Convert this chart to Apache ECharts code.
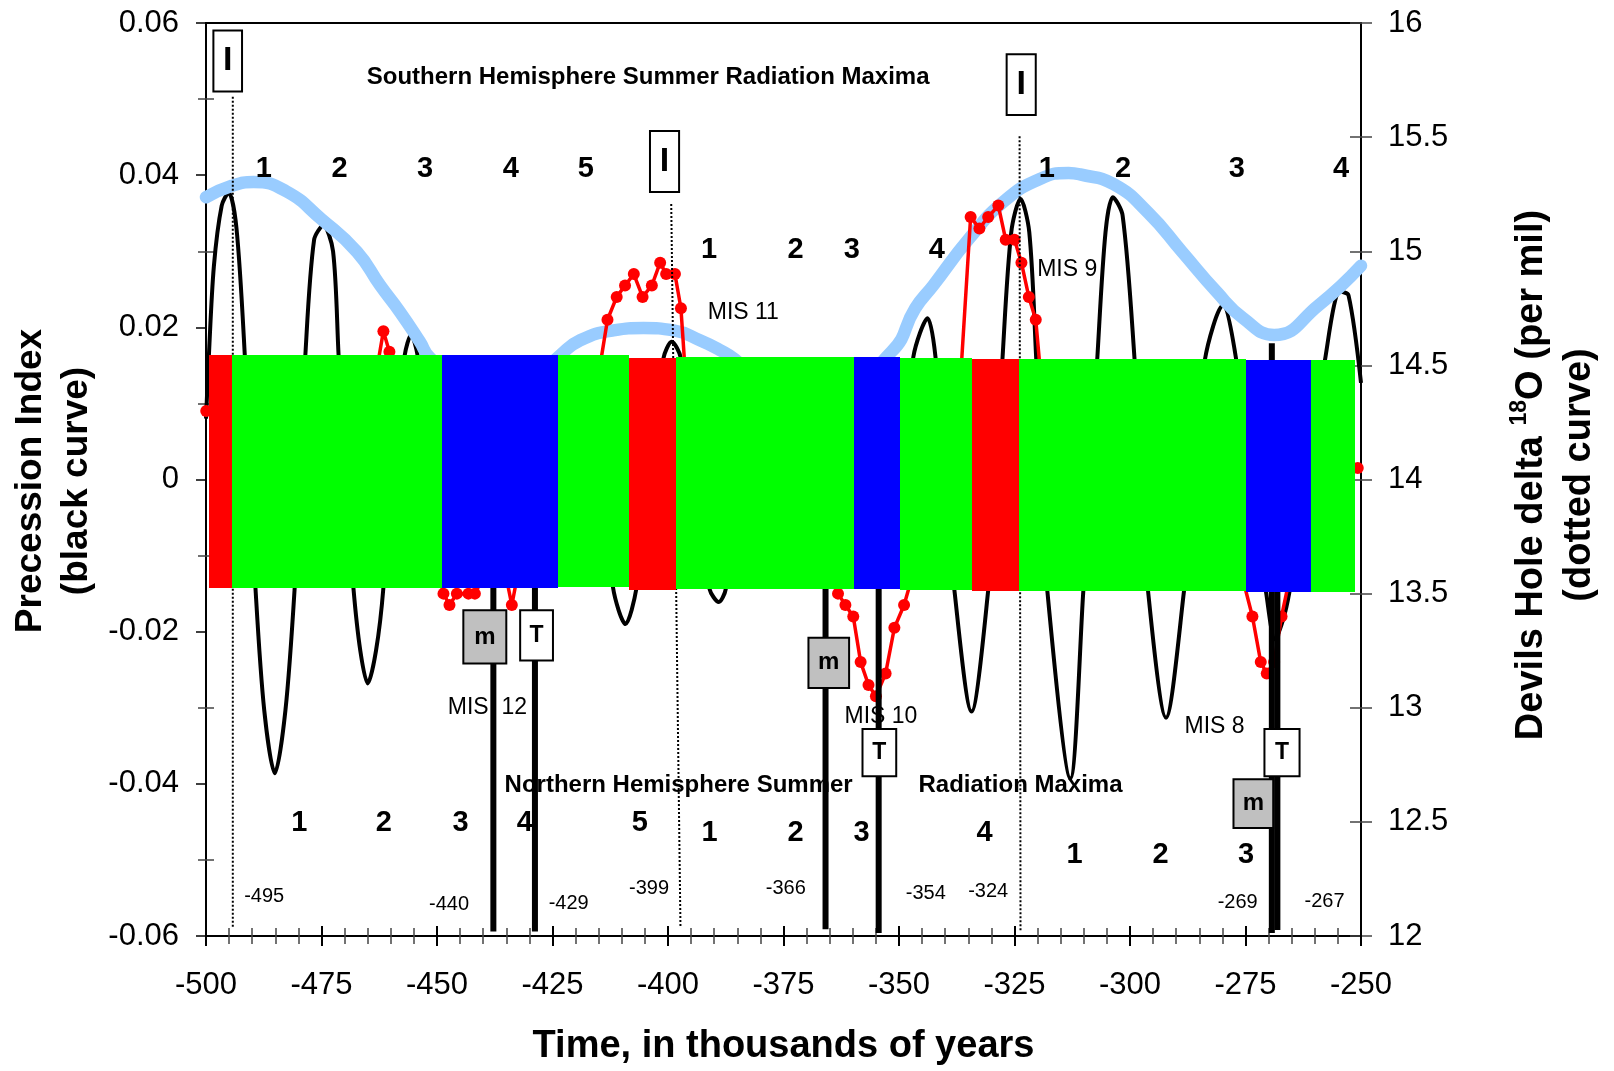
<!DOCTYPE html>
<html lang="en">
<head>
<meta charset="utf-8" />
<title>Precession index and Devils Hole delta 18O</title>
<style>
  html, body { margin: 0; padding: 0; background: #fff; }
  #main { width: 1614px; height: 1071px; }
</style>
</head>
<body>
<div id="main"></div>
<script src="https://cdn.jsdelivr.net/npm/echarts@6/dist/echarts.min.js"></script>
<script>
var FONT = '"Liberation Sans", Arial, Helvetica, sans-serif';

// precession index, black curve (left axis) : [time ka, index]
var precession = [
  [-500, 0.008], [-499.4, 0.016], [-498.3, 0.028], [-496.6, 0.036], [-495.1, 0.0377], [-493.4, 0.033],
  [-491.6, 0.0163], [-490.4, 0], [-489.3, -0.0142], [-487.4, -0.0303], [-485.1, -0.0386], [-482.8, -0.0303],
  [-480.8, -0.0142], [-479.7, 0], [-478.5, 0.0163], [-476.6, 0.0315], [-474.6, 0.0334], [-472.5, 0.030],
  [-471.3, 0.0163], [-469.8, 0], [-468.1, -0.0142], [-466.6, -0.0225], [-465.0, -0.0268], [-463.2, -0.0225],
  [-461.6, -0.0142], [-460.2, 0], [-457.0, 0.0163], [-455.6, 0.019], [-454.2, 0.0163], [-451.0, 0],
  [-446.3, -0.0105], [-441.5, 0], [-437.2, 0.0085], [-432.5, 0], [-428.0, -0.008], [-423.0, 0],
  [-418.2, 0.012], [-414.0, 0], [-411.9, -0.0142], [-409.2, -0.019], [-406.8, -0.0142], [-404.0, 0],
  [-401.0, 0.0159], [-399.2, 0.0181], [-397.2, 0.0159], [-394.5, 0], [-391.0, -0.0144], [-389.0, -0.0161],
  [-387.5, -0.0144], [-384.5, 0], [-380.0, 0.010], [-375.5, 0], [-371.0, -0.008], [-366.5, 0],
  [-362.0, 0.008], [-357.0, 0], [-352.5, -0.012], [-349.5, 0], [-346.9, 0.0161], [-343.8, 0.0212],
  [-342.1, 0.0161], [-340.0, 0], [-338.0, -0.0146], [-334.3, -0.0305], [-330.7, -0.0146], [-329.0, 0],
  [-327.6, 0.0159], [-325.7, 0.0325], [-323.7, 0.0369], [-321.8, 0.0325], [-320.3, 0.0159], [-319.0, 0],
  [-317.9, -0.0146], [-312.9, -0.0393], [-310.1, -0.0146], [-308.6, 0], [-307.1, 0.0157], [-305.3, 0.0325],
  [-303.7, 0.0371], [-301.6, 0.0347], [-299.0, 0.0157], [-297.5, 0], [-296.1, -0.0146], [-292.2, -0.0313],
  [-288.3, -0.0146], [-286.0, 0], [-283.8, 0.0157], [-279.9, 0.0229], [-277.0, 0.0157], [-274.0, 0],
  [-270.5, -0.015], [-268.6, -0.021], [-266.9, -0.0185], [-265.5, -0.0148], [-261.5, 0], [-257.8, 0.0157],
  [-254.5, 0.0247], [-252.7, 0.0242], [-250.0, 0.0127]
];

// thick light blue curve, in left axis units
var envelope = [
  [-500, 0.0371], [-494.4, 0.0386], [-489.7, 0.0391], [-482.7, 0.0379], [-475.0, 0.0342], [-467.3, 0.0299],
  [-462.3, 0.0255], [-458.0, 0.0220], [-453.7, 0.0181], [-451.5, 0.0160], [-437.5, 0.0090], [-423.4, 0.0163],
  [-419.0, 0.0183], [-411.8, 0.0196], [-405.3, 0.0199], [-398.8, 0.0196], [-393.1, 0.0183], [-388.7, 0.0170],
  [-385.5, 0.0158], [-370.0, 0.0080], [-351.6, 0.0168], [-346.5, 0.0225], [-342.6, 0.0255], [-334.9, 0.0316],
  [-327.2, 0.0366], [-319.5, 0.0395], [-313.3, 0.0403], [-310.8, 0.0401], [-303.5, 0.0388], [-296.1, 0.0351],
  [-288.7, 0.0299], [-281.3, 0.0247], [-275.5, 0.0212], [-268.8, 0.0190], [-259.2, 0.0229], [-250.0, 0.0281]
];

// Devils Hole delta 18O, red dotted curve (right axis, per mil)
var devilsHole = [
  [-499.95, 14.30], [-490, 14.15], [-478, 14.2], [-468, 14.3], [-463.3, 14.45], [-461.6, 14.65],
  [-460.3, 14.56], [-456.5, 14.2], [-452.5, 13.85], [-450.0, 13.62], [-448.6, 13.50], [-447.3, 13.45],
  [-445.7, 13.50], [-443.2, 13.50], [-441.8, 13.50], [-438.5, 13.63], [-435.5, 13.62], [-433.8, 13.45],
  [-430.5, 13.8], [-425, 14.1], [-419, 14.35], [-414.7, 14.50], [-413.1, 14.70], [-411.1, 14.80],
  [-409.3, 14.85], [-407.4, 14.90], [-405.5, 14.80], [-403.5, 14.85], [-401.7, 14.95], [-400.4, 14.90],
  [-398.5, 14.90], [-397.2, 14.75], [-396.2, 14.45], [-390, 14.15], [-380, 13.95], [-370, 13.75],
  [-364.8, 13.58], [-363.2, 13.50], [-361.6, 13.45], [-359.9, 13.40], [-358.3, 13.20], [-356.6, 13.10],
  [-355.0, 13.05], [-352.9, 13.15], [-351.0, 13.35], [-348.9, 13.45], [-346.5, 13.62], [-342, 14.0],
  [-338.5, 14.35], [-336.5, 14.50], [-334.5, 15.15], [-332.6, 15.10], [-330.7, 15.15], [-328.5, 15.20],
  [-326.9, 15.05], [-325.0, 15.05], [-323.5, 14.95], [-321.9, 14.80], [-320.4, 14.70], [-319.3, 14.45],
  [-310, 14.2], [-300, 14.0], [-290, 13.85], [-280, 13.72], [-276.3, 13.62], [-273.5, 13.40],
  [-271.7, 13.20], [-270.4, 13.15], [-268.8, 13.2], [-267.2, 13.40], [-264.8, 13.63], [-260, 13.85],
  [-255, 14.0], [-250.7, 14.05]
];

// coloured band across the middle (left axis units)
var bandStart = [-499.4, -494.4, -448.9, -423.8, -408.4, -398.2, -359.7, -349.8, -334.2, -324.1, -274.9, -260.8];
var bandEnd = [-494.4, -448.9, -423.8, -408.4, -398.2, -359.7, -349.8, -334.2, -324.1, -274.9, -260.8, -251.3];
var bandTop = [0.0163, 0.0163, 0.0163, 0.0163, 0.0160, 0.0161, 0.0161, 0.0160, 0.0159, 0.0158, 0.0157, 0.0157];
var bandBottom = [-0.0142, -0.0142, -0.0142, -0.0141, -0.0145, -0.0144, -0.0144, -0.0145, -0.0146, -0.0147, -0.0148, -0.0148];
var bandColor = ['#FF0000', '#00FF00', '#0000FF', '#00FF00', '#FF0000', '#00FF00',
                 '#0000FF', '#00FF00', '#FF0000', '#00FF00', '#0000FF', '#00FF00'];

// thick black vertical bars
var barTime = [-437.8, -428.8, -365.9, -354.4, -269.3, -268.1];
var barTop = [0, 0, 0, 0, 0.0179, 0];
var barBottom = [-0.0594, -0.0594, -0.0591, -0.0596, -0.0596, -0.0592];

// dotted vertical guides
var guideTimeTop = [-494.2, -399.3, -323.9];
var guideTimeBottom = [-494.2, -397.3, -323.7];
var guideTop = [0.0503, 0.0362, 0.0451];
var guideBottom = [-0.0589, -0.0589, -0.0593];

// boxed markers
var boxText = ['I', 'I', 'I', 'T', 'T', 'T', 'm', 'm', 'm'];
var boxX0 = [-498.4, -403.9, -326.7, -432.0, -357.9, -270.9, -444.3, -369.6, -277.6];
var boxX1 = [-492.2, -397.6, -320.4, -424.9, -350.6, -263.3, -435.0, -360.8, -269.0];
var boxTop = [0.0590, 0.0458, 0.0559, -0.0172, -0.0328, -0.0328, -0.0172, -0.0208, -0.0394];
var boxBottom = [0.0510, 0.0378, 0.0479, -0.0238, -0.0390, -0.0390, -0.0242, -0.0274, -0.0458];

// cycle numbers
var cycleText = ['1', '2', '3', '4', '5', '1', '2', '3', '4', '1', '2', '3', '4',
                 '1', '2', '3', '4', '5', '1', '2', '3', '4', '1', '2', '3'];
var cycleTime = [-487.5, -471.1, -452.6, -434.0, -417.8, -391.1, -372.4, -360.2, -341.8, -318.0, -301.5, -276.9, -254.3,
                 -479.8, -461.5, -444.9, -431.0, -406.1, -391.0, -372.4, -358.1, -331.5, -312.0, -293.4, -274.9];
var cycleY = [0.0408, 0.0408, 0.0408, 0.0408, 0.0408, 0.0302, 0.0302, 0.0302, 0.0302, 0.0408, 0.0408, 0.0408, 0.0408,
              -0.0451, -0.0451, -0.0451, -0.0451, -0.0451, -0.0464, -0.0464, -0.0464, -0.0464, -0.0493, -0.0493, -0.0493];

// marine isotope stage labels
var misText = ['MIS 11', 'MIS 9', 'MIS  12', 'MIS 10', 'MIS 8'];
var misTime = [-383.7, -313.6, -439.1, -353.9, -281.7];
var misY = [0.0219, 0.0276, -0.0300, -0.0312, -0.0325];

// ages
var ageText = ['-495', '-440', '-429', '-399', '-366', '-354', '-324', '-269', '-267'];
var ageTime = [-487.4, -447.4, -421.5, -404.1, -374.5, -344.2, -330.7, -276.7, -257.9];
var ageY = [-0.0548, -0.0558, -0.0557, -0.0537, -0.0537, -0.0544, -0.0541, -0.0556, -0.0554];

// headings
var headText = ['Southern Hemisphere Summer Radiation Maxima', 'Northern Hemisphere Summer', 'Radiation Maxima'];
var headTime = [-404.3, -397.7, -323.7];
var headY = [0.0528, -0.0402, -0.0402];

function textSeries(xs, ys, texts, font, z) {
  return {
    type: 'custom', z: z, silent: true,
    data: xs.map(function (x, i) { return [x, ys[i]]; }),
    renderItem: function (params, api) {
      var p = api.coord([api.value(0), api.value(1)]);
      return {
        type: 'text', x: p[0], y: p[1],
        style: { text: texts[params.dataIndex], font: font, fill: '#000', align: 'center', verticalAlign: 'middle' }
      };
    }
  };
}

var myChart = echarts.init(document.getElementById('main'));

var option = {
  animation: false,
  backgroundColor: '#fff',
  grid: { left: 206, right: 253, top: 23, bottom: 131, show: true, borderColor: '#000', borderWidth: 2 },
  xAxis: [{
    type: 'value', min: -500, max: -250, interval: 25, position: 'bottom',
    axisLine: { onZero: false, lineStyle: { color: '#000', width: 2 } },
    axisTick: { length: 10, lineStyle: { color: '#000', width: 2 } },
    minorTick: { show: true, splitNumber: 5, length: 8, lineStyle: { color: '#444', width: 1.5 } },
    axisLabel: { fontFamily: FONT, fontSize: 31, color: '#000', margin: 34 },
    splitLine: { show: false },
    name: 'Time, in thousands of years', nameLocation: 'middle', nameGap: 92,
    nameTextStyle: { fontFamily: FONT, fontSize: 38, fontWeight: 'bold', color: '#000' }
  }, {
    type: 'value', min: -500, max: -250, interval: 25, position: 'bottom',
    axisLine: { show: false, onZero: false }, axisLabel: { show: false }, splitLine: { show: false },
    axisTick: { inside: true, length: 10, lineStyle: { color: '#000', width: 2 } },
    minorTick: { show: true, splitNumber: 5, length: 8, lineStyle: { color: '#444', width: 1.5 } }
  }],
  yAxis: [{
    type: 'value', min: -0.06, max: 0.06, interval: 0.02, position: 'left',
    axisLine: { show: true, onZero: false, lineStyle: { color: '#000', width: 2 } },
    axisTick: { show: true, length: 10, lineStyle: { color: '#000', width: 1.5 } },
    minorTick: { show: true, splitNumber: 2, length: 8, lineStyle: { color: '#444', width: 1.5 } },
    axisLabel: {
      fontFamily: FONT, fontSize: 31, color: '#000', margin: 27,
      formatter: function (v) { return Math.abs(v) < 1e-9 ? '0' : v.toFixed(2); }
    },
    splitLine: { show: false }
  }, {
    type: 'value', min: -0.06, max: 0.06, interval: 0.02, position: 'left',
    axisLine: { show: false, onZero: false }, axisLabel: { show: false }, splitLine: { show: false },
    axisTick: { show: false, inside: true },
    minorTick: { show: true, splitNumber: 2, length: 8, lineStyle: { color: '#444', width: 1.5 } }
  }, {
    type: 'value', min: 12, max: 16, interval: 0.5, position: 'right',
    axisLine: { show: true, onZero: false, lineStyle: { color: '#000', width: 1.5 } },
    axisTick: { length: 11, lineStyle: { color: '#444', width: 1.5 } },
    axisLabel: { fontFamily: FONT, fontSize: 31, color: '#000', margin: 27 },
    splitLine: { show: false }
  }, {
    type: 'value', min: 12, max: 16, interval: 0.5, position: 'right',
    axisLine: { show: false, onZero: false }, axisLabel: { show: false }, splitLine: { show: false },
    axisTick: { inside: true, length: 11, lineStyle: { color: '#444', width: 1.5 } }
  }],
  graphic: [{
    type: 'text', x: 54, y: 481, rotation: Math.PI / 2,
    style: {
      text: 'Precession Index\n(black curve)', font: 'bold 37px ' + FONT, fill: '#000',
      align: 'center', verticalAlign: 'middle', lineHeight: 46
    }
  }, {
    type: 'text', x: 1556, y: 475, rotation: Math.PI / 2,
    style: {
      text: 'Devils Hole delta {sup|18}O (per mil)\n(dotted curve)', font: 'bold 38px ' + FONT, fill: '#000',
      align: 'center', verticalAlign: 'middle', lineHeight: 48,
      rich: { sup: { font: 'bold 23px ' + FONT, fill: '#000', verticalAlign: 'top', lineHeight: 48 } }
    }
  }],
  series: [
    {
      type: 'line', data: precession, smooth: 0.3, showSymbol: false, silent: true,
      lineStyle: { color: '#000', width: 4 }, z: 2
    },
    {
      type: 'line', data: envelope, smooth: 0.5, showSymbol: false, silent: true,
      lineStyle: { color: '#99CCFF', width: 12.5, cap: 'round' }, z: 3
    },
    {
      type: 'line', yAxisIndex: 2, data: devilsHole, symbol: 'circle', symbolSize: 12, silent: true,
      itemStyle: { color: '#FF0000' }, lineStyle: { color: '#FF0000', width: 3.5 }, z: 4
    },
    textSeries(cycleTime, cycleY, cycleText, 'bold 29px ' + FONT, 5),
    textSeries(misTime, misY, misText, '23px ' + FONT, 5),
    textSeries(ageTime, ageY, ageText, '20px ' + FONT, 5),
    textSeries(headTime, headY, headText, 'bold 24px ' + FONT, 5),
    {
      // dotted guides
      type: 'custom', z: 6, silent: true,
      data: guideTimeTop.map(function (t, i) { return [t, guideTop[i], guideTimeBottom[i], guideBottom[i]]; }),
      renderItem: function (params, api) {
        var a = api.coord([api.value(0), api.value(1)]);
        var b = api.coord([api.value(2), api.value(3)]);
        return {
          type: 'line', shape: { x1: a[0], y1: a[1], x2: b[0], y2: b[1] },
          style: { stroke: '#000', lineWidth: 2, lineDash: [2, 2] }
        };
      }
    },
    {
      // thick bars
      type: 'custom', z: 7, silent: true,
      data: barTime.map(function (t, i) { return [t, barTop[i], barBottom[i]]; }),
      renderItem: function (params, api) {
        var a = api.coord([api.value(0), api.value(1)]);
        var b = api.coord([api.value(0), api.value(2)]);
        return {
          type: 'line', shape: { x1: a[0], y1: a[1], x2: b[0], y2: b[1] },
          style: { stroke: '#000', lineWidth: 6 }
        };
      }
    },
    {
      // coloured band
      type: 'custom', z: 8, silent: true,
      data: bandStart.map(function (s, i) { return [s, bandTop[i], bandEnd[i], bandBottom[i]]; }),
      renderItem: function (params, api) {
        var a = api.coord([api.value(0), api.value(1)]);
        var b = api.coord([api.value(2), api.value(3)]);
        var x0 = Math.round(a[0]), x1 = Math.round(b[0]);
        var y0 = Math.round(a[1]), y1 = Math.round(b[1]);
        return {
          type: 'rect', shape: { x: x0, y: y0, width: x1 - x0, height: y1 - y0 },
          style: { fill: bandColor[params.dataIndex] }
        };
      }
    },
    {
      // boxes I / T / m
      type: 'custom', z: 9, silent: true,
      data: boxX0.map(function (x, i) { return [x, boxTop[i], boxX1[i], boxBottom[i]]; }),
      renderItem: function (params, api) {
        var i = params.dataIndex;
        var a = api.coord([api.value(0), api.value(1)]);
        var b = api.coord([api.value(2), api.value(3)]);
        var t = boxText[i];
        var font = t === 'I' ? 'bold 34px ' : (t === 'T' ? 'bold 23px ' : 'bold 24px ');
        return {
          type: 'group',
          children: [{
            type: 'rect', shape: { x: a[0], y: a[1], width: b[0] - a[0], height: b[1] - a[1] },
            style: { fill: t === 'm' ? '#C0C0C0' : '#FFFFFF', stroke: '#000', lineWidth: 2 }
          }, {
            type: 'text', x: (a[0] + b[0]) / 2, y: (a[1] + b[1]) / 2,
            style: { text: t, font: font + FONT, fill: '#000', align: 'center', verticalAlign: 'middle' }
          }]
        };
      }
    }
  ]
};

myChart.setOption(option);
</script>
</body>
</html>
